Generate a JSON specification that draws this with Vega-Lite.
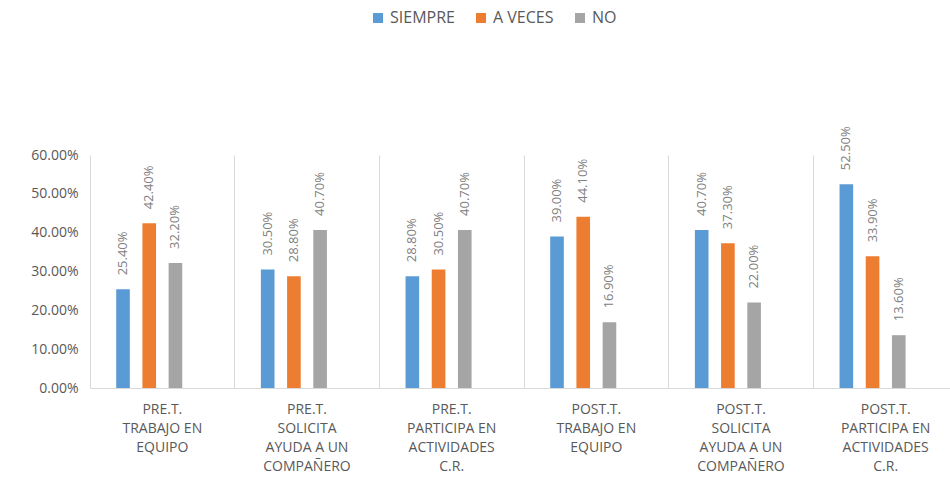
{
  "$schema": "https://vega.github.io/schema/vega-lite/v6.json",
  "autosize": "none",
  "width": 868,
  "height": 233,
  "padding": {"left": 90, "top": 155, "right": 0, "bottom": 92},
  "background": "white",
  "config": {
    "view": {"stroke": null},
    "font": "Open Sans",
    "text": {"font": "Open Sans"}
  },
  "data": {
    "values": [
      {"cat": "PRE.T.|TRABAJO EN|EQUIPO", "serie": "SIEMPRE", "v": 0.254},
      {"cat": "PRE.T.|TRABAJO EN|EQUIPO", "serie": "A VECES", "v": 0.424},
      {"cat": "PRE.T.|TRABAJO EN|EQUIPO", "serie": "NO", "v": 0.322},
      {"cat": "PRE.T.|SOLICITA|AYUDA A UN|COMPAÑERO", "serie": "SIEMPRE", "v": 0.305},
      {"cat": "PRE.T.|SOLICITA|AYUDA A UN|COMPAÑERO", "serie": "A VECES", "v": 0.288},
      {"cat": "PRE.T.|SOLICITA|AYUDA A UN|COMPAÑERO", "serie": "NO", "v": 0.407},
      {"cat": "PRE.T.|PARTICIPA EN|ACTIVIDADES|C.R.", "serie": "SIEMPRE", "v": 0.288},
      {"cat": "PRE.T.|PARTICIPA EN|ACTIVIDADES|C.R.", "serie": "A VECES", "v": 0.305},
      {"cat": "PRE.T.|PARTICIPA EN|ACTIVIDADES|C.R.", "serie": "NO", "v": 0.407},
      {"cat": "POST.T.|TRABAJO EN|EQUIPO", "serie": "SIEMPRE", "v": 0.39},
      {"cat": "POST.T.|TRABAJO EN|EQUIPO", "serie": "A VECES", "v": 0.441},
      {"cat": "POST.T.|TRABAJO EN|EQUIPO", "serie": "NO", "v": 0.169},
      {"cat": "POST.T.|SOLICITA|AYUDA A UN|COMPAÑERO", "serie": "SIEMPRE", "v": 0.407},
      {"cat": "POST.T.|SOLICITA|AYUDA A UN|COMPAÑERO", "serie": "A VECES", "v": 0.373},
      {"cat": "POST.T.|SOLICITA|AYUDA A UN|COMPAÑERO", "serie": "NO", "v": 0.22},
      {"cat": "POST.T.|PARTICIPA EN|ACTIVIDADES|C.R.", "serie": "SIEMPRE", "v": 0.525},
      {"cat": "POST.T.|PARTICIPA EN|ACTIVIDADES|C.R.", "serie": "A VECES", "v": 0.339},
      {"cat": "POST.T.|PARTICIPA EN|ACTIVIDADES|C.R.", "serie": "NO", "v": 0.136}
    ]
  },
  "encoding": {
    "x": {
      "field": "cat",
      "type": "nominal",
      "sort": null,
      "scale": {"paddingInner": 0, "paddingOuter": 0},
      "axis": {
        "title": null,
        "labelAngle": 0,
        "labelExpr": "split(datum.label, '|')",
        "labelFontSize": 14,
        "labelLineHeight": 19,
        "labelColor": "#595959",
        "labelPadding": 14,
        "labelBaseline": "top",
        "labelOverlap": false,
        "ticks": false,
        "domainColor": "#d9d9d9",
        "grid": true,
        "gridColor": "#d9d9d9",
        "bandPosition": 0
      }
    },
    "xOffset": {
      "field": "serie",
      "type": "nominal",
      "scale": {"domain": ["SIEMPRE", "A VECES", "NO", "_"], "paddingInner": 0.48, "paddingOuter": 1.14}
    },
    "y": {
      "field": "v",
      "type": "quantitative",
      "scale": {"domain": [0, 0.6]},
      "axis": {
        "title": null,
        "format": ".2%",
        "values": [0, 0.1, 0.2, 0.3, 0.4, 0.5, 0.6],
        "labelOverlap": false,
        "grid": false,
        "domain": false,
        "ticks": false,
        "labelFontSize": 14,
        "labelColor": "#595959",
        "labelPadding": 12
      }
    }
  },
  "layer": [
    {
      "mark": {"type": "bar"},
      "encoding": {
        "color": {
          "field": "serie",
          "type": "nominal",
          "scale": {"domain": ["SIEMPRE", "A VECES", "NO"], "range": ["#5b9bd5", "#ed7d31", "#a5a5a5"]},
          "legend": {
            "title": null,
            "orient": "none",
            "direction": "horizontal",
            "legendX": 280,
            "legendY": -145,
            "symbolType": "square",
            "symbolSize": 100,
            "symbolStrokeWidth": 0,
            "labelFontSize": 16,
            "labelColor": "#595959",
            "columnPadding": 18,
            "labelOffset": 4
          }
        }
      }
    },
    {
      "mark": {"type": "text", "angle": 270, "align": "left", "baseline": "middle", "dx": 14, "fontSize": 13, "color": "#808080"},
      "encoding": {
        "text": {"field": "v", "type": "quantitative", "format": ".2%"}
      }
    }
  ]
}
